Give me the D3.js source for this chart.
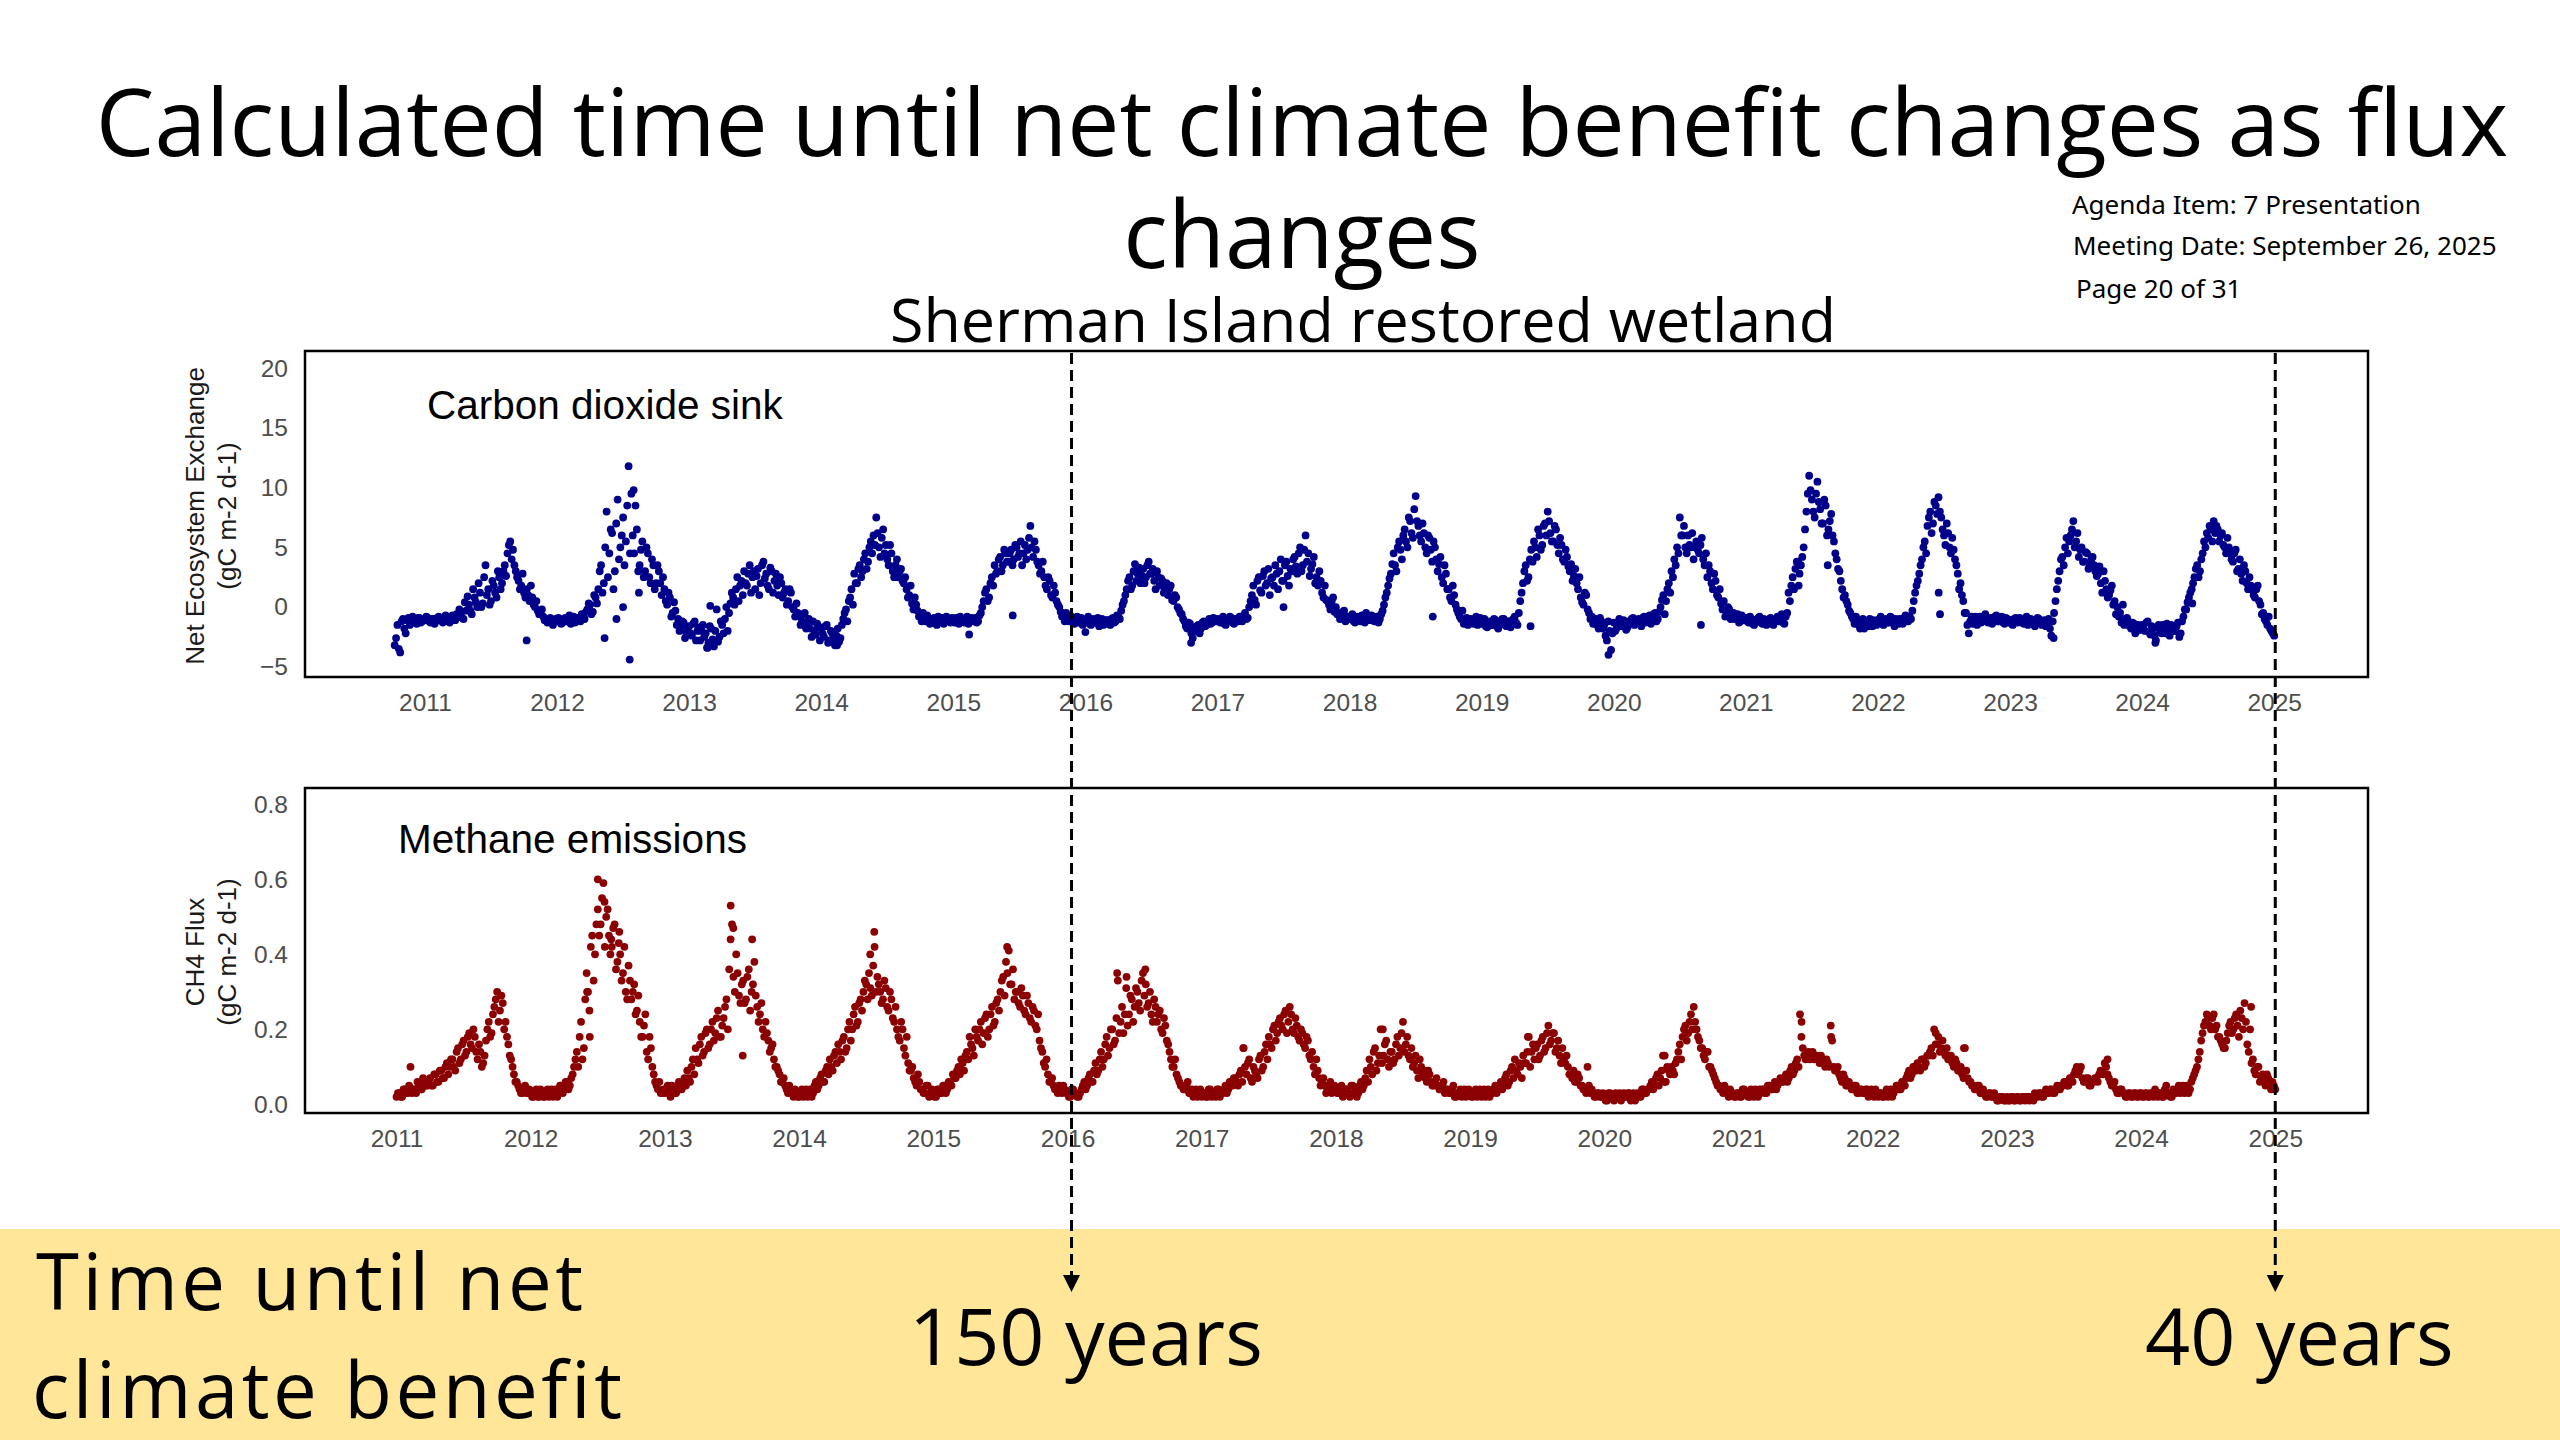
<!DOCTYPE html>
<html><head><meta charset="utf-8">
<script src="https://cdn.jsdelivr.net/npm/d3@7"></script>
<style>html,body{margin:0;padding:0;background:#fff;}svg{display:block;}</style>
</head><body>
<svg id="chart" width="2560" height="1440"></svg>
<script>
// ---------------- DATA ----------------
const titleLines = ["Calculated time until net climate benefit changes as flux", "changes"];
const subtitle = "Sherman Island restored wetland";
const agendaLines = ["Agenda Item: 7 Presentation", "Meeting Date: September 26, 2025", "Page 20 of 31"];
const bandLines = ["Time until net", "climate benefit"];
const outcomeLabels = ["150 years", "40 years"];
const markerYears = [2016.03, 2025.0];   // dashed arrows (bottom-panel time axis)

const yearTicks = [2011,2012,2013,2014,2015,2016,2017,2018,2019,2020,2021,2022,2023,2024,2025];
const neeTicks = [-5, 0, 5, 10, 15, 20];
const ch4Ticks = [0.0, 0.2, 0.4, 0.6, 0.8];

// Net Ecosystem Exchange (gC m-2 d-1): readings every 1/48 year from late 2010 (set A)
const neeStart = 2010.771;
const neeStep = 1/48;
const neeValues = [
  -3.2,-1.5,-3.8,-1.0,-2.2,-0.9,-1.3,-1.0,-1.4,-0.9,-1.2,
  // 2011
  -1.1,-0.9,-1.3,-1.0,-1.2,-0.8,-1.1,-0.9,-1.0,-1.3,-0.7,-1.1,-0.8,-0.5,-1.0,-0.3,0.2,-0.6,0.8,0.0,1.2,0.3,3.5,1.5,
  0.5,1.8,0.8,2.5,2.0,3.5,4.5,5.5,4.8,3.0,2.2,1.8,1.2,1.5,0.5,0.8,0.0,-0.3,-0.6,-0.8,-1.0,-1.2,-1.3,-1.1,
  // 2012
  -1.2,-1.0,-1.3,-0.9,-1.1,-1.4,-0.8,-1.2,-0.9,-0.6,-1.0,-0.2,0.2,-0.4,0.8,1.5,3.5,2.0,8.0,4.5,6.2,3.0,9.0,5.0,
  7.5,5.5,11.8,9.5,4.5,6.5,3.5,5.5,3.0,4.5,2.0,3.5,2.0,3.0,1.0,1.5,0.2,0.8,-0.5,-0.3,-1.0,-1.8,-1.3,-2.2,
  // 2013
  -1.6,-2.4,-1.2,-2.0,-2.8,-1.5,-2.2,-3.0,-1.8,-3.3,-0.2,-2.5,-1.5,-1.0,-2.0,0.3,0.8,1.5,0.5,2.2,3.0,1.8,3.5,2.5,
  1.5,3.2,2.0,3.8,2.8,1.5,3.0,2.2,1.8,2.5,0.8,1.5,0.5,1.2,-0.2,0.3,-0.8,-1.2,-0.5,-1.5,-1.8,-1.2,-2.3,-1.6,
  // 2014
  -1.8,-2.5,-1.5,-2.8,-2.2,-3.2,-1.8,-2.6,-1.0,-0.2,0.5,1.5,2.8,2.0,3.5,3.0,4.5,3.8,5.5,6.0,7.5,5.0,5.8,4.5,
  4.0,5.2,3.0,3.5,2.5,3.2,2.0,1.5,1.0,0.3,0.8,-0.3,-0.8,-0.5,-1.2,-1.0,-1.3,-0.9,-1.5,-1.1,-0.9,-1.2,-1.0,-1.3,
  // 2015
  -1.1,-0.9,-1.4,-1.0,-1.3,-0.8,-1.2,-1.0,-0.9,-1.2,-0.5,0.5,1.5,0.8,2.5,3.5,3.0,4.2,3.5,4.5,3.8,4.8,4.0,5.0,
  4.5,3.5,5.2,4.8,6.8,4.2,4.8,3.5,3.0,2.5,1.5,2.2,0.8,1.2,0.2,-0.4,-0.8,-0.5,-1.2,-1.0,-1.4,-0.8,-1.2,-1.5,
  // 2016
  -1.2,-0.8,-1.5,-1.0,-1.3,-1.6,-1.0,-1.4,-1.1,-1.5,-0.9,-1.2,-0.8,-0.3,0.5,1.5,2.5,1.8,3.6,2.8,2.0,3.2,2.5,3.8,
  2.8,2.2,3.0,1.8,2.2,1.5,1.0,1.8,0.5,0.8,-0.2,-0.6,-1.2,-1.8,-1.4,-2.6,-2.0,-1.5,-1.8,-1.2,-1.5,-1.0,-1.3,-1.1,
  // 2017
  -1.0,-1.3,-0.8,-1.5,-1.1,-0.9,-1.4,-1.0,-0.8,-1.2,-0.5,-0.9,0.5,1.8,0.2,2.5,1.2,3.0,2.0,1.0,2.5,3.5,1.5,4.0,
  2.2,3.8,1.8,3.0,4.2,2.8,5.0,3.5,6.0,4.5,3.2,4.2,2.5,3.0,1.2,1.8,0.5,-0.2,0.8,0.0,-0.5,-0.8,-0.3,-1.0,
  // 2018
  -1.0,-0.6,-1.3,-0.8,-1.2,-0.9,-0.5,-1.1,-0.7,-1.2,-0.8,-1.0,-0.3,0.8,1.8,2.8,4.5,3.0,5.5,4.0,6.5,5.0,7.2,5.8,
  9.3,6.8,5.5,6.2,4.5,5.8,3.8,5.0,3.0,4.2,2.0,2.8,1.5,0.5,1.0,-0.2,-0.8,-0.3,-1.2,-1.5,-1.0,-1.4,-0.8,-1.2,
  // 2019
  -1.4,-1.0,-1.7,-1.2,-1.5,-1.1,-1.8,-1.3,-1.0,-1.6,-1.2,-1.4,-0.8,-1.5,0.5,2.0,3.5,2.5,4.8,5.5,4.2,6.0,5.2,7.0,
  8.0,6.2,5.5,6.5,4.5,5.2,3.8,4.2,3.0,2.2,3.2,1.5,0.8,0.2,1.0,-0.5,-0.8,-1.2,-1.5,-0.9,-1.8,-2.4,-1.2,-3.6,
  // 2020
  -1.3,-1.8,-1.0,-1.5,-1.2,-1.7,-1.4,-0.9,-1.3,-1.0,-1.6,-0.8,-1.2,-0.7,-1.0,-0.5,-1.0,0.0,1.0,0.5,2.0,3.0,4.0,5.0,
  7.5,6.0,5.0,6.0,5.0,4.0,5.5,4.5,5.8,3.5,2.5,3.0,1.5,2.2,0.8,0.3,0.5,-0.5,-0.2,-0.8,-1.0,-0.6,-1.2,-0.9,
  // 2021
  -0.9,-1.3,-1.0,-1.5,-1.2,-0.8,-1.4,-1.1,-1.3,-0.9,-1.5,-1.0,-1.2,-0.6,-1.4,-0.5,0.5,2.5,3.2,3.8,3.5,5.0,8.0,11.0,
  9.0,7.5,10.5,8.2,7.0,8.5,6.5,7.8,5.5,4.0,3.0,1.5,1.0,0.2,-0.5,-1.0,-0.8,-1.5,-1.2,-1.8,-1.3,-1.0,-1.6,-1.2,
  // 2022
  -1.2,-0.8,-1.5,-1.0,-1.3,-0.9,-1.6,-1.1,-1.0,-1.4,-0.7,-1.2,-1.0,0.5,1.8,2.8,4.0,5.5,6.8,8.0,7.0,8.5,9.2,7.5,
  6.0,7.0,5.0,5.8,4.0,2.8,2.0,0.5,-0.5,-2.2,-0.8,-1.0,-1.5,-0.8,-1.2,-0.6,-1.3,-0.9,-1.1,-0.7,-1.2,-0.8,-1.4,-1.0,
  // 2023
  -1.1,-1.5,-0.9,-1.3,-1.0,-1.4,-0.8,-1.2,-1.1,-1.6,-0.9,-1.3,-1.2,-1.6,-1.0,-2.4,-0.5,1.5,3.0,4.2,5.0,4.5,6.0,7.2,
  5.5,4.2,5.0,3.8,4.5,3.5,4.2,3.0,2.8,2.0,3.0,1.5,1.0,1.8,0.5,0.0,-0.5,0.2,-1.0,-1.2,-1.8,-1.4,-2.0,-1.6,
  // 2024
  -1.5,-2.0,-1.2,-2.3,-1.8,-2.8,-1.5,-2.2,-1.9,-1.4,-2.4,-1.6,-2.0,-1.3,-2.2,-0.8,-0.2,0.8,1.5,2.5,3.5,3.0,4.5,5.0,
  5.8,6.5,7.2,6.8,5.5,6.2,5.0,5.8,4.5,3.8,4.8,3.2,2.8,3.5,2.0,2.5,1.5,0.8,1.8,0.2,-0.5,-1.2,-0.8,-2.0,
  -2.4
];
// second set of NEE readings, each half a step after the matching set-A reading
const neeValuesB = [
  -2.6,-3.5,-1.2,-1.8,-1.1,-1.5,-0.8,-1.2,-0.9,-1.3,-1.0,
  // 2011
  -0.8,-1.2,-1.0,-1.4,-0.9,-1.1,-1.3,-0.7,-1.2,-0.9,-1.0,-0.6,-0.2,-0.9,0.4,0.9,-0.3,1.5,0.4,2.0,0.0,2.5,1.0,0.2,
  2.2,1.2,3.0,1.5,3.0,2.6,5.2,4.0,3.5,2.5,1.5,2.8,0.8,1.0,1.8,0.2,0.5,-0.6,-0.2,-1.1,-1.3,-0.9,-1.5,-1.0,
  // 2012
  -0.9,-1.4,-1.1,-1.2,-0.7,-1.0,-1.3,-0.9,-1.2,-0.8,-0.4,0.3,-0.6,1.0,0.3,3.0,1.2,5.0,2.5,6.5,1.5,7.0,4.0,6.0,
  3.5,8.5,4.5,6.0,8.5,3.0,4.8,2.5,5.0,2.5,4.0,1.5,3.5,2.0,2.5,0.5,1.2,-0.8,0.4,-1.5,-2.0,-1.2,-2.6,-1.7,
  // 2013
  -2.2,-1.4,-2.8,-1.7,-2.0,-2.5,-3.4,-1.6,-2.7,-2.0,-2.9,-1.2,-2.2,0.0,-0.5,1.2,0.2,2.5,1.8,1.0,2.0,2.8,1.2,3.0,
  2.6,1.0,3.5,2.4,1.8,3.3,1.2,2.8,1.0,2.0,1.2,0.2,1.5,0.0,-0.8,-0.5,-1.5,-0.6,-1.8,-1.0,-2.5,-2.0,-1.4,-2.8,
  // 2014
  -2.2,-1.6,-3.0,-2.0,-2.7,-2.4,-2.9,-1.5,-0.5,-1.2,0.8,0.2,2.0,3.2,2.5,4.0,3.2,5.0,4.5,5.2,6.2,4.2,6.5,5.2,
  3.5,4.5,2.5,4.0,3.0,2.2,2.5,0.8,1.8,-0.2,0.2,-0.8,-1.2,-1.0,-0.7,-1.4,-1.0,-1.3,-0.8,-1.2,-1.4,-0.8,-1.2,-0.9,
  // 2015
  -1.3,-1.0,-0.8,-1.2,-1.0,-1.4,-0.9,-1.2,-1.3,-0.7,0.0,1.2,0.5,2.0,1.8,2.8,4.0,3.0,4.8,3.8,4.5,3.5,5.2,4.2,
  5.5,4.5,4.0,5.8,5.0,5.5,3.8,2.8,3.8,1.8,2.5,1.0,1.8,0.5,0.0,-0.8,-1.2,-1.0,-0.7,-1.3,-1.1,-1.3,-0.9,-1.2,
  // 2016
  -1.0,-1.4,-1.1,-1.3,-0.9,-1.2,-1.5,-1.1,-1.4,-1.0,-1.3,-0.7,-1.0,0.2,1.0,2.2,1.5,3.0,2.2,3.3,2.6,2.0,3.5,2.8,
  3.2,1.5,2.5,2.4,1.2,2.0,1.5,0.6,1.0,0.0,-0.5,-1.0,-1.6,-1.3,-2.2,-1.8,-1.6,-2.2,-1.3,-1.6,-1.2,-1.4,-0.9,-1.2,
  // 2017
  -1.2,-1.0,-1.4,-1.1,-0.8,-1.3,-1.0,-1.2,-1.1,-0.7,-1.0,0.0,1.0,0.6,2.2,1.4,2.6,1.8,3.2,2.4,1.8,2.8,3.0,2.2,
  3.5,2.6,3.2,4.0,3.4,4.5,3.0,4.8,3.8,2.6,3.6,2.0,1.8,2.2,0.8,0.6,0.2,0.5,-0.4,-0.6,-1.0,-0.4,-1.2,-0.8,
  // 2018
  -0.8,-1.2,-0.9,-1.1,-0.7,-1.3,-1.0,-0.8,-1.1,-0.9,-1.3,-0.6,0.2,1.2,2.4,3.6,3.5,5.0,4.8,6.0,5.5,7.5,6.2,8.2,
  7.2,6.0,7.0,5.0,6.0,4.8,5.5,4.0,3.6,2.5,3.5,1.5,0.8,1.8,0.2,-0.5,-1.0,-1.4,-0.9,-1.1,-1.3,-1.0,-1.5,-0.9,
  // 2019
  -1.1,-1.6,-1.3,-1.5,-1.0,-1.6,-1.2,-1.0,-1.5,-1.2,-1.7,-1.0,-1.3,-0.5,1.2,3.0,2.2,4.0,3.8,5.0,6.5,4.8,6.8,6.0,
  7.2,5.5,6.8,5.2,5.8,4.0,4.8,3.4,3.6,2.6,2.0,2.5,0.4,1.2,-0.2,-1.0,-1.4,-1.0,-1.8,-1.2,-1.5,-2.8,-2.0,-2.2,
  // 2020
  -2.0,-1.4,-1.6,-1.1,-1.9,-1.2,-1.0,-1.5,-1.1,-1.4,-0.9,-1.3,-1.0,-1.4,-0.6,-1.2,-0.4,0.6,-0.6,1.5,1.2,2.5,3.5,4.5,
  6.0,6.8,4.5,5.2,6.2,5.0,4.8,5.2,4.0,4.5,3.5,2.0,2.8,1.0,1.5,-0.2,-0.8,0.0,-1.0,-0.5,-0.8,-1.3,-0.7,-1.1,
  // 2021
  -1.2,-0.8,-1.4,-1.1,-0.9,-1.3,-1.0,-1.5,-1.0,-1.4,-1.2,-0.8,-1.0,-1.3,-0.8,1.2,1.8,1.5,3.8,2.8,4.2,6.5,9.5,9.8,
  8.0,9.5,8.8,7.0,9.0,6.0,7.2,6.0,4.5,3.2,2.2,0.8,0.5,-0.3,-0.8,-1.4,-1.2,-1.8,-1.0,-1.4,-1.6,-1.3,-1.1,-1.5,
  // 2022
  -1.0,-1.4,-1.1,-1.3,-0.8,-1.2,-1.0,-1.4,-1.2,-0.9,-1.1,-0.8,-0.3,1.2,2.2,3.5,5.0,4.5,7.5,6.2,8.8,7.8,8.0,6.5,
  5.2,6.2,4.5,4.8,3.5,1.5,1.0,-0.5,-1.5,-1.2,-1.4,-0.8,-1.0,-1.3,-0.9,-1.1,-1.0,-1.4,-0.8,-1.2,-1.0,-1.3,-0.9,-1.1,
  // 2023
  -1.4,-1.0,-1.2,-0.9,-1.3,-1.1,-1.5,-1.0,-1.4,-1.2,-1.0,-1.5,-1.1,-1.3,-1.8,-1.2,0.5,2.2,4.0,3.5,5.8,5.5,6.5,5.0,
  6.2,4.8,3.8,4.6,3.2,4.0,3.5,2.6,3.4,1.2,2.2,0.8,1.4,0.2,-0.6,-0.8,-1.3,-1.5,-0.9,-1.6,-1.3,-2.2,-1.5,-1.9,
  // 2024
  -1.8,-1.3,-2.1,-1.6,-2.4,-1.7,-2.0,-1.5,-2.2,-1.8,-1.5,-2.0,-1.6,-2.5,-1.2,-0.2,0.4,1.2,2.0,3.2,2.5,4.0,5.5,6.2,
  6.8,5.5,6.2,6.5,6.0,5.2,4.5,5.0,4.0,4.5,3.0,4.0,2.2,3.0,1.5,1.8,1.0,1.5,0.5,-0.6,-1.0,-1.5,-1.8,-2.2
];
// isolated NEE readings away from the main band: [year, value]
const neeExtra = [
  [2011.77,-2.8],[2012.36,-2.6],[2012.55,-4.4],[2012.50,0.0],[2012.45,-1.0],[2012.62,1.2],[2012.58,9.8],
  [2013.16,0.1],[2013.14,-3.4],[2014.12,-3.2],[2015.12,-2.3],[2015.45,-0.7],[2016.00,-2.1],[2016.80,-3.0],
  [2017.50,0.0],[2018.63,-0.8],[2019.37,-1.6],[2019.96,-4.0],[2020.66,-1.5],[2021.40,1.8],[2021.62,3.5],
  [2022.47,-0.6],[2022.46,1.2],[2023.33,-2.6],[2024.10,-3.0],[2024.38,0.3]
];

// CH4 flux (gC m-2 d-1): readings every 1/48 year from 2011 (set A)
const ch4Start = 2011.0;
const ch4Step = 1/48;
const ch4Values = [
  // 2011
  0.02,0.03,0.02,0.04,0.03,0.10,0.04,0.03,0.05,0.04,0.06,0.05,0.07,0.05,0.08,0.06,0.09,0.07,0.11,0.10,0.12,0.09,0.15,0.12,
  0.17,0.14,0.19,0.15,0.18,0.12,0.14,0.11,0.17,0.22,0.19,0.26,0.30,0.25,0.27,0.22,0.16,0.12,0.08,0.06,0.04,0.03,0.05,0.03,
  // 2012
  0.03,0.02,0.04,0.02,0.03,0.02,0.04,0.03,0.02,0.04,0.03,0.05,0.04,0.06,0.05,0.08,0.12,0.10,0.22,0.15,0.35,0.25,0.45,0.40,
  0.52,0.48,0.59,0.50,0.45,0.42,0.48,0.38,0.40,0.35,0.30,0.37,0.28,0.32,0.25,0.22,0.18,0.24,0.12,0.15,0.08,0.05,0.06,0.03,
  // 2013
  0.03,0.05,0.02,0.04,0.03,0.06,0.04,0.07,0.09,0.06,0.12,0.15,0.11,0.18,0.14,0.20,0.16,0.22,0.19,0.25,0.18,0.23,0.28,0.36,
  0.48,0.30,0.35,0.27,0.33,0.28,0.36,0.30,0.38,0.26,0.24,0.20,0.22,0.17,0.15,0.12,0.10,0.08,0.06,0.05,0.03,0.04,0.02,0.03,
  // 2014
  0.02,0.04,0.03,0.02,0.04,0.03,0.06,0.05,0.08,0.06,0.10,0.12,0.09,0.14,0.16,0.12,0.18,0.15,0.22,0.20,0.26,0.22,0.28,0.30,
  0.32,0.35,0.29,0.42,0.34,0.30,0.28,0.31,0.25,0.28,0.22,0.20,0.17,0.20,0.13,0.11,0.09,0.07,0.05,0.06,0.04,0.03,0.05,0.03,
  // 2015
  0.03,0.02,0.04,0.03,0.05,0.04,0.06,0.08,0.07,0.10,0.12,0.09,0.14,0.18,0.15,0.20,0.17,0.22,0.19,0.24,0.20,0.26,0.22,0.28,
  0.30,0.34,0.38,0.41,0.32,0.28,0.30,0.26,0.29,0.24,0.27,0.22,0.25,0.20,0.17,0.14,0.10,0.08,0.06,0.05,0.04,0.05,0.03,0.04,
  // 2016
  0.03,0.02,0.04,0.03,0.02,0.04,0.06,0.05,0.08,0.06,0.11,0.09,0.14,0.12,0.18,0.15,0.20,0.17,0.33,0.22,0.19,0.31,0.24,0.28,
  0.26,0.30,0.25,0.35,0.32,0.27,0.24,0.28,0.22,0.25,0.19,0.21,0.16,0.12,0.10,0.08,0.06,0.05,0.04,0.06,0.03,0.02,0.04,0.03,
  // 2017
  0.02,0.03,0.02,0.04,0.03,0.02,0.04,0.03,0.04,0.03,0.06,0.05,0.07,0.05,0.09,0.15,0.08,0.12,0.06,0.09,0.07,0.13,0.10,0.16,
  0.18,0.15,0.21,0.19,0.23,0.20,0.25,0.22,0.24,0.19,0.21,0.17,0.19,0.15,0.17,0.12,0.10,0.12,0.07,0.06,0.05,0.04,0.06,0.04,
  // 2018
  0.04,0.03,0.05,0.03,0.04,0.02,0.05,0.04,0.03,0.06,0.05,0.09,0.12,0.08,0.15,0.11,0.20,0.13,0.17,0.10,0.14,0.12,0.18,0.15,
  0.22,0.16,0.13,0.15,0.11,0.09,0.12,0.08,0.07,0.09,0.06,0.05,0.07,0.04,0.05,0.03,0.04,0.03,0.05,0.02,0.03,0.02,0.04,0.03,
  // 2019
  0.03,0.02,0.04,0.03,0.02,0.04,0.03,0.02,0.03,0.05,0.04,0.06,0.05,0.08,0.06,0.10,0.12,0.08,0.10,0.13,0.11,0.18,0.14,0.12,
  0.16,0.13,0.18,0.15,0.21,0.17,0.19,0.15,0.13,0.15,0.11,0.10,0.08,0.09,0.06,0.07,0.05,0.04,0.10,0.03,0.03,0.02,0.03,0.02,
  // 2020
  0.02,0.01,0.03,0.02,0.03,0.02,0.01,0.03,0.02,0.03,0.02,0.01,0.03,0.02,0.04,0.03,0.04,0.06,0.05,0.08,0.07,0.13,0.06,0.09,
  0.10,0.08,0.12,0.16,0.18,0.21,0.19,0.24,0.26,0.20,0.17,0.15,0.12,0.14,0.10,0.08,0.06,0.05,0.04,0.05,0.03,0.04,0.03,0.02,
  // 2021
  0.03,0.02,0.04,0.03,0.02,0.03,0.04,0.02,0.03,0.04,0.03,0.05,0.04,0.06,0.05,0.07,0.06,0.08,0.07,0.10,0.09,0.12,0.24,0.15,
  0.12,0.14,0.13,0.12,0.13,0.11,0.12,0.10,0.11,0.21,0.10,0.09,0.08,0.06,0.07,0.05,0.05,0.04,0.05,0.03,0.04,0.03,0.04,0.03,
  // 2022
  0.03,0.04,0.02,0.03,0.02,0.04,0.03,0.02,0.04,0.05,0.04,0.06,0.07,0.09,0.08,0.10,0.11,0.09,0.12,0.11,0.13,0.15,0.20,0.16,
  0.14,0.17,0.13,0.12,0.13,0.10,0.11,0.09,0.08,0.15,0.07,0.06,0.05,0.04,0.05,0.03,0.03,0.02,0.03,0.02,0.02,0.01,0.02,0.01,
  // 2023
  0.02,0.01,0.02,0.01,0.02,0.01,0.02,0.02,0.01,0.02,0.03,0.02,0.03,0.02,0.04,0.03,0.04,0.03,0.05,0.04,0.05,0.06,0.05,0.07,
  0.08,0.10,0.09,0.07,0.06,0.07,0.05,0.06,0.07,0.08,0.09,0.11,0.08,0.06,0.05,0.04,0.03,0.04,0.03,0.02,0.03,0.02,0.03,0.02,
  // 2024
  0.03,0.02,0.03,0.02,0.03,0.04,0.02,0.03,0.02,0.05,0.03,0.02,0.03,0.04,0.03,0.05,0.04,0.03,0.06,0.08,0.10,0.14,0.19,0.22,
  0.23,0.20,0.24,0.21,0.18,0.16,0.15,0.19,0.22,0.20,0.24,0.18,0.23,0.27,0.16,0.20,0.12,0.08,0.10,0.07,0.06,0.08,0.05,0.06,
  0.04
];
// second set of CH4 readings, each half a step after the matching set-A reading
const ch4ValuesB = [
  // 2011
  0.03,0.02,0.04,0.03,0.05,0.03,0.04,0.06,0.04,0.07,0.05,0.06,0.05,0.08,0.06,0.09,0.07,0.10,0.08,0.12,0.10,0.14,0.11,0.16,
  0.13,0.18,0.16,0.20,0.14,0.16,0.10,0.13,0.20,0.18,0.24,0.28,0.22,0.29,0.20,0.18,0.13,0.10,0.06,0.05,0.03,0.04,0.03,0.04,
  // 2012
  0.02,0.03,0.02,0.04,0.02,0.03,0.02,0.04,0.03,0.02,0.05,0.03,0.06,0.04,0.07,0.10,0.14,0.18,0.12,0.28,0.30,0.42,0.33,0.48,
  0.45,0.55,0.42,0.52,0.40,0.47,0.36,0.43,0.33,0.42,0.28,0.33,0.30,0.24,0.29,0.18,0.21,0.14,0.18,0.10,0.06,0.04,0.03,0.04,
  // 2013
  0.04,0.03,0.05,0.03,0.05,0.04,0.06,0.05,0.07,0.10,0.08,0.12,0.16,0.13,0.19,0.15,0.20,0.17,0.23,0.18,0.21,0.26,0.20,0.44,
  0.34,0.40,0.29,0.32,0.27,0.34,0.25,0.32,0.29,0.22,0.27,0.18,0.19,0.14,0.16,0.10,0.09,0.06,0.07,0.04,0.05,0.03,0.04,0.02,
  // 2014
  0.03,0.02,0.04,0.03,0.02,0.05,0.04,0.07,0.06,0.09,0.08,0.10,0.13,0.11,0.14,0.17,0.14,0.20,0.17,0.24,0.21,0.27,0.25,0.33,
  0.28,0.31,0.37,0.30,0.32,0.27,0.33,0.26,0.30,0.23,0.26,0.18,0.22,0.15,0.18,0.09,0.10,0.06,0.08,0.04,0.03,0.05,0.02,0.04,
  // 2015
  0.02,0.04,0.03,0.05,0.03,0.06,0.05,0.07,0.09,0.08,0.11,0.13,0.12,0.16,0.13,0.18,0.20,0.16,0.23,0.18,0.24,0.21,0.27,0.25,
  0.33,0.29,0.35,0.32,0.36,0.30,0.27,0.31,0.25,0.29,0.23,0.26,0.21,0.24,0.15,0.11,0.12,0.06,0.07,0.04,0.03,0.04,0.05,0.03,
  // 2016
  0.02,0.04,0.03,0.02,0.03,0.05,0.04,0.07,0.06,0.09,0.08,0.12,0.10,0.16,0.13,0.20,0.16,0.23,0.19,0.26,0.24,0.21,0.29,0.22,
  0.31,0.27,0.33,0.29,0.26,0.30,0.22,0.26,0.24,0.20,0.23,0.17,0.14,0.10,0.12,0.07,0.05,0.04,0.05,0.03,0.04,0.03,0.02,0.04,
  // 2017
  0.03,0.02,0.04,0.02,0.03,0.04,0.02,0.03,0.05,0.04,0.05,0.07,0.06,0.08,0.06,0.10,0.11,0.07,0.10,0.08,0.12,0.09,0.14,0.12,
  0.16,0.20,0.17,0.22,0.21,0.24,0.19,0.26,0.20,0.23,0.18,0.20,0.16,0.18,0.13,0.14,0.08,0.09,0.05,0.07,0.03,0.05,0.03,0.05,
  // 2018
  0.03,0.04,0.02,0.04,0.03,0.05,0.03,0.02,0.05,0.04,0.07,0.06,0.10,0.14,0.09,0.13,0.11,0.16,0.12,0.14,0.11,0.16,0.13,0.19,
  0.14,0.18,0.12,0.10,0.13,0.07,0.10,0.09,0.06,0.08,0.05,0.06,0.05,0.04,0.06,0.04,0.03,0.04,0.02,0.03,0.04,0.03,0.02,0.04,
  // 2019
  0.02,0.03,0.02,0.04,0.03,0.02,0.04,0.03,0.04,0.03,0.05,0.04,0.07,0.05,0.09,0.07,0.09,0.11,0.07,0.11,0.14,0.10,0.16,0.15,
  0.12,0.17,0.14,0.19,0.16,0.19,0.14,0.17,0.11,0.12,0.13,0.08,0.07,0.06,0.08,0.05,0.04,0.03,0.05,0.04,0.02,0.03,0.02,0.03,
  // 2020
  0.01,0.03,0.02,0.01,0.02,0.03,0.02,0.02,0.03,0.01,0.03,0.02,0.02,0.04,0.03,0.04,0.05,0.04,0.07,0.05,0.09,0.06,0.10,0.08,
  0.09,0.11,0.14,0.12,0.20,0.17,0.22,0.20,0.22,0.18,0.15,0.13,0.14,0.10,0.09,0.07,0.05,0.04,0.03,0.04,0.02,0.03,0.02,0.03,
  // 2021
  0.02,0.04,0.03,0.02,0.04,0.02,0.03,0.04,0.04,0.03,0.05,0.04,0.05,0.04,0.06,0.06,0.07,0.06,0.09,0.08,0.11,0.10,0.18,0.13,
  0.13,0.12,0.14,0.13,0.12,0.13,0.11,0.12,0.10,0.17,0.09,0.10,0.07,0.08,0.05,0.06,0.04,0.05,0.03,0.04,0.03,0.04,0.02,0.04,
  // 2022
  0.02,0.03,0.03,0.02,0.03,0.02,0.04,0.03,0.05,0.04,0.06,0.05,0.08,0.07,0.10,0.09,0.10,0.12,0.10,0.13,0.14,0.13,0.16,0.18,
  0.15,0.14,0.15,0.13,0.11,0.12,0.09,0.10,0.07,0.09,0.06,0.05,0.04,0.05,0.03,0.04,0.02,0.03,0.02,0.03,0.01,0.02,0.02,0.01,
  // 2023
  0.01,0.02,0.01,0.02,0.01,0.02,0.01,0.02,0.02,0.01,0.02,0.03,0.02,0.03,0.03,0.04,0.03,0.04,0.04,0.05,0.06,0.05,0.07,0.06,
  0.09,0.08,0.10,0.06,0.07,0.05,0.06,0.07,0.06,0.09,0.08,0.10,0.07,0.05,0.06,0.03,0.04,0.03,0.02,0.03,0.02,0.03,0.02,0.03,
  // 2024
  0.02,0.03,0.02,0.03,0.02,0.03,0.03,0.02,0.04,0.03,0.02,0.04,0.03,0.05,0.04,0.03,0.05,0.04,0.07,0.09,0.12,0.17,0.21,0.24,
  0.21,0.23,0.20,0.18,0.17,0.15,0.17,0.21,0.19,0.23,0.21,0.25,0.20,0.22,0.14,0.11,0.09,0.10,0.06,0.08,0.05,0.07,0.04,0.05
];
const ch4Extra = [
  [2012.50,0.60],[2012.55,0.54],[2012.42,0.30],[2012.44,0.18],[2012.60,0.44],[2012.66,0.46],[2013.49,0.53],
  [2013.51,0.47],[2013.65,0.44],[2013.58,0.13],[2014.56,0.46],[2014.53,0.40],[2015.55,0.42],[2016.37,0.35],
  [2016.44,0.34],[2016.58,0.36],[2017.31,0.15],[2018.35,0.20],[2019.43,0.18],[2020.45,0.13],[2021.47,0.22],
  [2021.69,0.18],[2022.47,0.19],[2022.68,0.15],[2023.75,0.12],[2024.82,0.26]
];

// ---------------- DRAWING ----------------
const svg = d3.select("#chart");
svg.append("rect").attr("width", 2560).attr("height", 1440).attr("fill", "#ffffff");

// Yellow band at the bottom
svg.append("rect").attr("x", 0).attr("y", 1229).attr("width", 2560).attr("height", 211).attr("fill", "#FFE699");

// Title
const title = svg.append("text").attr("text-anchor", "middle")
  .attr("font-family", "'Open Sans', sans-serif").attr("font-size", 93).attr("fill", "#000");
titleLines.forEach((t, i) => title.append("tspan").attr("x", 1302).attr("y", 156 + i * 112).text(t));

svg.append("text").attr("x", 1363).attr("y", 342).attr("text-anchor", "middle")
  .attr("font-family", "'Open Sans', sans-serif").attr("font-size", 61).attr("fill", "#000").text(subtitle);

const agendaX = [2072, 2073, 2076], agendaY = [214, 255, 298];
agendaLines.forEach((t, i) => svg.append("text").attr("x", agendaX[i]).attr("y", agendaY[i])
  .attr("font-family", "'Noto Sans', sans-serif").attr("font-size", 26).attr("fill", "#000").text(t));

// Panels
const fmtInt = d3.format("d"), fmt1 = d3.format(".1f");
const panels = [
  { top: 351, bottom: 677, xDomain: [2010.092, 2025.71], yDomain: [-5.86, 21.45], yTicks: neeTicks, fmt: fmtInt,
    color: "#00008B", start: neeStart, step: neeStep, values: neeValues, valuesB: neeValuesB, extra: neeExtra,
    label: "Carbon dioxide sink", labelX: 427, labelY: 419,
    yTitle: ["Net Ecosystem Exchange", "(gC m-2 d-1)"], yTitleCenter: 516 },
  { top: 788, bottom: 1113, xDomain: [2010.318, 2025.691], yDomain: [-0.0232, 0.8435], yTicks: ch4Ticks, fmt: fmt1,
    color: "#8B0000", start: ch4Start, step: ch4Step, values: ch4Values, valuesB: ch4ValuesB, extra: ch4Extra,
    label: "Methane emissions", labelX: 398, labelY: 853,
    yTitle: ["CH4 Flux", "(gC m-2 d-1)"], yTitleCenter: 952 }
];
const left = 305, right = 2368;
let lastX = null;

panels.forEach(p => {
  const x = d3.scaleLinear().domain(p.xDomain).range([left, right]);
  const y = d3.scaleLinear().domain(p.yDomain).range([p.bottom, p.top]);
  lastX = x;
  const g = svg.append("g");
  const pts = p.values.map((v, i) => [p.start + i * p.step, v])
    .concat(p.valuesB.map((v, i) => [p.start + (i + 0.5) * p.step, v]))
    .concat(p.extra);

  g.append("g").selectAll("circle").data(pts).join("circle")
    .attr("cx", d => x(d[0])).attr("cy", d => y(d[1])).attr("r", 3.9)
    .attr("fill", p.color);

  g.append("rect").attr("x", left).attr("y", p.top).attr("width", right - left).attr("height", p.bottom - p.top)
    .attr("fill", "none").attr("stroke", "#000").attr("stroke-width", 2.5);

  const xa = g.append("g").attr("transform", `translate(0,${p.bottom})`)
    .call(d3.axisBottom(x).tickValues(yearTicks).tickFormat(fmtInt).tickSize(0).tickPadding(17));
  const ya = g.append("g").attr("transform", `translate(${left},0)`)
    .call(d3.axisLeft(y).tickValues(p.yTicks).tickFormat(p.fmt).tickSize(0).tickPadding(17));
  [xa, ya].forEach(a => {
    a.select(".domain").remove();
    a.selectAll("text").attr("font-family", "'Liberation Sans', Arial, sans-serif")
      .attr("font-size", 24.5).attr("fill", "#4D4D4D");
  });

  g.append("text").attr("x", p.labelX).attr("y", p.labelY)
    .attr("font-family", "'Liberation Sans', Arial, sans-serif").attr("font-size", 40.5).attr("fill", "#000").text(p.label);

  const ty = [204, 236];
  p.yTitle.forEach((t, i) => g.append("text")
    .attr("transform", `translate(${ty[i]},${p.yTitleCenter}) rotate(-90)`).attr("text-anchor", "middle")
    .attr("font-family", "'Liberation Sans', Arial, sans-serif").attr("font-size", 26).attr("fill", "#1a1a1a").text(t));
});

// Dashed arrows
markerYears.forEach(yr => {
  const mx = lastX(yr);
  svg.append("line").attr("x1", mx).attr("x2", mx).attr("y1", 353).attr("y2", 1276)
    .attr("stroke", "#000").attr("stroke-width", 3).attr("stroke-dasharray", "11,6");
  svg.append("path").attr("d", `M${mx - 8.5},1275 L${mx + 8.5},1275 L${mx},1292 Z`).attr("fill", "#000");
});

// Band texts
const bandX = [36, 32], bandY = [1310, 1418];
bandLines.forEach((t, i) => svg.append("text").attr("x", bandX[i]).attr("y", bandY[i])
  .attr("font-family", "'Open Sans', sans-serif").attr("font-size", 78).attr("letter-spacing", 3.5)
  .attr("fill", "#000").text(t));
const outX = [909, 2145];
outcomeLabels.forEach((t, i) => svg.append("text").attr("x", outX[i]).attr("y", 1365)
  .attr("font-family", "'Open Sans', sans-serif").attr("font-size", 79).attr("fill", "#000").text(t));
</script>
</body></html>
